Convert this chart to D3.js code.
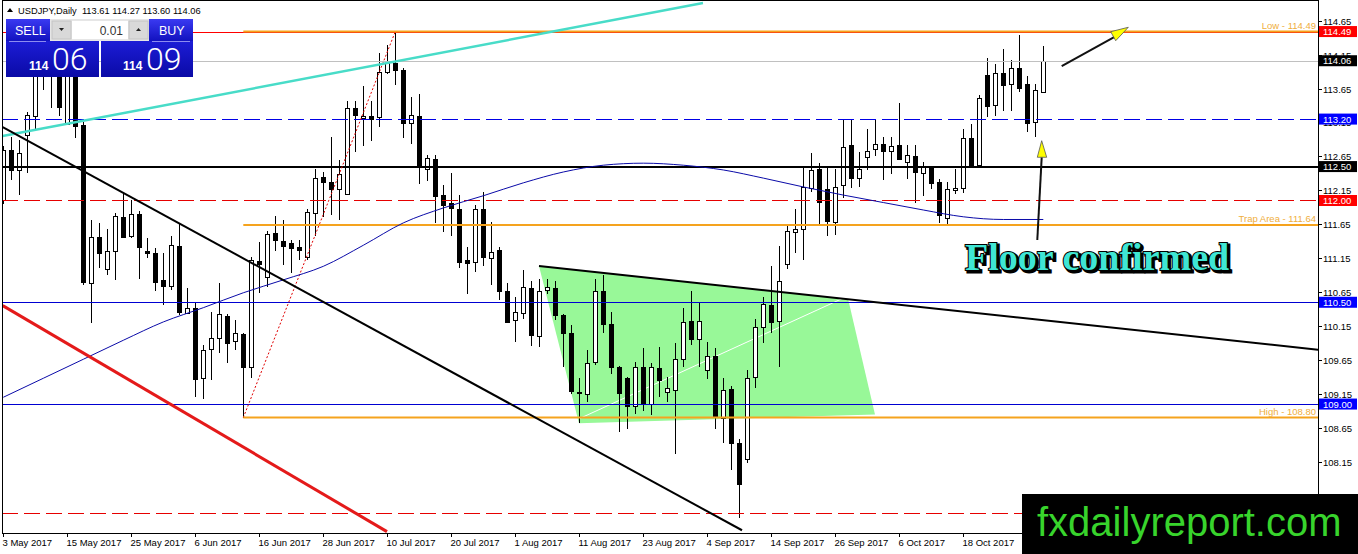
<!DOCTYPE html>
<html>
<head>
<meta charset="utf-8">
<script src="https://cdn.jsdelivr.net/npm/d3@7"></script>
<style>
  body { margin: 0; background: #fff; }
  svg { display: block; font-family: 'Liberation Sans', Arial, sans-serif; }
</style>
</head>
<body>
<svg id="chart" width="1358" height="554"></svg>
<script>
// USDJPY daily candles, index 0 = 3 May 2017
const openP = [
  112.01, 112.75, 112.45, 112.97, 113.24, 114.00, 113.88, 114.05, 113.14, 113.90,
  113.11, 110.78, 111.46, 110.99, 111.26, 111.76, 111.47, 111.80, 111.25, 111.23,
  110.83, 110.73, 111.33, 110.34, 110.42, 109.38, 109.81, 109.98, 110.30, 109.92,
  110.03, 109.54, 111.11, 110.88, 111.52, 111.41, 111.37, 111.31, 111.17, 111.82,
  112.35, 112.28, 112.17, 112.10, 113.36, 113.22, 113.25, 113.23, 113.88, 114.03,
  113.93, 113.14, 113.25, 112.46, 112.61, 112.08, 111.97, 111.88, 111.12, 111.10,
  111.87, 111.15, 111.27, 110.66, 110.24, 110.34, 110.71, 110.00, 110.68, 110.71,
  110.31, 110.04, 109.16, 109.16, 109.61, 110.66, 110.18, 109.55, 109.38, 108.97,
  109.55, 109.00, 109.53, 109.17, 109.22, 109.67, 110.23, 109.96, 109.51, 109.71,
  108.78, 109.22, 108.42, 108.19, 109.40, 110.14, 110.46, 110.23, 111.07, 111.54,
  111.58, 112.19, 112.46, 112.17, 111.69, 112.23, 112.82, 112.33, 112.64, 112.75,
  112.84, 112.72, 112.82, 112.56, 112.66, 112.41, 112.49, 112.28, 111.74, 112.15,
  112.19, 112.92, 112.52, 113.85, 113.41, 113.88, 113.73, 113.96, 113.72, 113.16,
  113.61
];
const highP = [
  112.80, 112.94, 112.89, 113.31, 114.10, 114.20, 114.30, 114.15, 114.05, 114.00,
  113.16, 111.71, 111.67, 111.58, 111.82, 112.11, 112.01, 111.85, 111.44, 111.30,
  111.22, 111.47, 111.66, 110.71, 110.51, 109.87, 110.36, 110.78, 110.33, 110.24,
  110.05, 111.17, 111.39, 111.55, 111.77, 111.71, 111.42, 111.42, 111.88, 112.46,
  112.42, 112.93, 112.60, 113.47, 113.47, 113.69, 113.47, 114.18, 114.29, 114.49,
  113.96, 113.52, 113.57, 112.67, 112.67, 112.23, 112.41, 112.08, 111.31, 111.93,
  112.12, 111.69, 111.32, 110.78, 110.58, 110.98, 110.82, 110.85, 110.85, 110.82,
  110.33, 110.16, 109.39, 109.80, 110.84, 110.90, 110.36, 109.56, 109.40, 109.62,
  109.82, 109.60, 109.84, 109.40, 109.90, 110.41, 110.66, 110.49, 109.92, 109.82,
  109.39, 109.26, 108.48, 109.50, 110.25, 110.58, 111.04, 111.33, 111.64, 111.87,
  112.50, 112.70, 112.55, 112.50, 112.47, 113.20, 113.20, 112.72, 113.05, 113.20,
  112.93, 112.93, 113.44, 112.82, 112.82, 112.57, 112.51, 112.31, 112.28, 112.46,
  113.05, 113.13, 113.56, 114.10, 114.01, 114.23, 114.07, 114.44, 113.84, 113.72,
  114.27
];
const lowP = [
  111.95, 112.30, 112.08, 112.40, 113.04, 113.63, 113.36, 113.24, 113.13, 112.92,
  110.75, 110.19, 111.00, 110.90, 110.83, 111.44, 111.45, 110.85, 111.15, 110.66,
  110.46, 110.68, 110.31, 110.32, 109.11, 109.08, 109.36, 109.75, 109.60, 109.80,
  108.80, 109.38, 110.63, 110.73, 111.26, 111.05, 110.93, 111.12, 111.12, 111.47,
  111.76, 111.79, 111.71, 112.08, 112.72, 112.80, 112.88, 113.09, 113.87, 113.70,
  112.92, 112.84, 112.25, 112.29, 111.67, 111.54, 111.47, 111.00, 110.62, 110.95,
  111.04, 110.76, 110.54, 110.19, 109.92, 110.26, 109.85, 109.84, 110.62, 110.24,
  109.55, 109.15, 108.72, 109.03, 109.58, 110.05, 109.44, 108.59, 108.63, 108.86,
  108.90, 108.84, 109.11, 109.03, 108.27, 109.54, 109.87, 109.55, 109.37, 108.63,
  108.43, 108.03, 107.32, 108.13, 109.23, 109.90, 110.05, 109.54, 110.99, 111.22,
  111.12, 112.13, 111.65, 111.47, 111.49, 112.03, 112.18, 112.20, 112.45, 112.65,
  112.30, 112.39, 112.59, 112.31, 111.97, 112.07, 112.17, 111.67, 111.64, 112.10,
  112.11, 112.50, 112.50, 113.23, 113.24, 113.32, 113.32, 113.60, 113.01, 112.94,
  113.60
];
const closeP = [
  112.75, 112.45, 112.70, 113.26, 113.95, 113.88, 114.05, 113.37, 113.90, 113.11,
  110.80, 111.46, 111.23, 111.26, 111.77, 111.46, 111.80, 111.32, 111.22, 110.80,
  110.74, 111.34, 110.36, 110.42, 109.37, 109.79, 109.97, 110.33, 109.90, 110.04,
  109.55, 111.12, 111.07, 111.51, 111.42, 111.34, 111.30, 111.26, 111.83, 112.33,
  112.28, 112.17, 112.39, 113.37, 113.26, 113.25, 113.20, 113.90, 114.02, 113.93,
  113.15, 113.26, 112.51, 112.62, 112.06, 111.93, 111.90, 111.10, 111.07, 111.88,
  111.16, 111.24, 110.67, 110.21, 110.36, 110.72, 110.02, 110.67, 110.73, 110.31,
  110.05, 109.18, 109.18, 109.61, 110.66, 110.18, 109.55, 109.17, 108.97, 109.55,
  109.01, 109.54, 109.35, 109.23, 109.67, 110.21, 109.96, 110.23, 109.71, 108.81,
  109.20, 108.43, 107.81, 109.38, 110.14, 110.48, 110.21, 110.82, 111.55, 111.58,
  112.20, 112.45, 111.97, 111.70, 112.20, 112.79, 112.34, 112.47, 112.73, 112.83,
  112.74, 112.80, 112.61, 112.67, 112.43, 112.50, 112.25, 111.80, 112.17, 112.18,
  112.92, 112.52, 113.51, 113.39, 113.88, 113.70, 113.96, 113.67, 113.15, 113.63,
  114.06
];

// moving average, read every 5 bars
const maIndex = [0, 5, 10, 15, 20, 25, 30, 35, 40, 45, 50, 55, 60, 65, 70, 75, 80, 85, 90, 95, 100, 105, 110, 115, 120, 125, 130];
const maValue = [109.10, 109.38, 109.66, 109.94, 110.21, 110.42, 110.64, 110.83, 111.03, 111.34, 111.67, 111.89, 112.07, 112.26, 112.42, 112.52, 112.55, 112.52, 112.45, 112.33, 112.20, 112.08, 111.97, 111.86, 111.76, 111.72, 111.72];

// axes
const priceTicks = [114.65, 114.15, 113.65, 113.15, 112.65, 112.15, 111.65, 111.15, 110.65, 110.15, 109.65, 109.15, 108.65, 108.15, 107.65];
const dateTickIndex = [0, 8, 16, 24, 32, 40, 48, 56, 64, 72, 80, 88, 96, 104, 112, 120];
const dateTickLabels = ['3 May 2017', '15 May 2017', '25 May 2017', '6 Jun 2017', '16 Jun 2017', '28 Jun 2017', '10 Jul 2017', '20 Jul 2017', '1 Aug 2017', '11 Aug 2017', '23 Aug 2017', '4 Sep 2017', '14 Sep 2017', '26 Sep 2017', '6 Oct 2017', '18 Oct 2017'];

// horizontal levels
const levelPrices = [114.49, 114.06, 113.20, 112.50, 112.00, 110.50, 109.00, 107.40];
const levelKinds = ['red', 'bid', 'blueDash', 'black', 'redDash', 'blue', 'blue', 'redDash'];
const boxPrices = [114.49, 114.06, 113.20, 112.50, 112.00, 110.50, 109.00];
const boxKinds = ['red', 'black', 'blue', 'black', 'red', 'blue', 'blue'];

// fibo levels (anchored on bar 30 low / bar 49 high)
const fibPrices = [114.49, 111.64, 108.80];
const fibNames = ['Low', 'Trap Area', 'High'];
const fibStart = 30;
const fibAnchors = [[30, 108.80], [49, 114.49]];

// trend lines [bar index, price]
const cyanLine = [[-0.08, 112.95], [87.46, 114.91]];
const blackDown = [[-0.07, 113.08], [92.34, 107.14]];
const redDown = [[-0.07, 110.45], [47.96, 107.12]];
const blackWedge = [[66.96, 111.035], [164.34, 109.80]];
const greenZone = [[66.96, 111.035], [105.6, 110.55], [108.96, 108.846], [71.96, 108.716]];
const whiteLine = [[72.1, 108.79], [104.97, 110.56]];

// arrows
const arrowUpRight = [[132.3, 113.98], [139.59, 114.454]];
const arrowHeadUpRight = [[140.625, 114.553], [138.425, 114.488], [139.05, 114.355]];
const arrowUp = [[129.25, 111.418], [129.8, 112.637]];
const arrowHeadUp = [[129.8, 112.881], [129.25, 112.637], [130.425, 112.637]];

const plot = { left: 2, top: 1, right: 1318, bottom: 533 };

const x = d3.scaleLinear().domain([0, 130]).range([3.3, 1043.3]);
const y = d3.scaleLinear().domain([107.0995, 114.9403]).range([plot.bottom, plot.top]);

const svg = d3.select('#chart');
const defs = svg.append('defs');

defs.append('clipPath').attr('id', 'plot-clip')
  .append('rect')
  .attr('x', plot.left).attr('y', plot.top)
  .attr('width', plot.right - plot.left).attr('height', plot.bottom - plot.top);

const btnGrad = defs.append('linearGradient').attr('id', 'btn-grad')
  .attr('x1', 0).attr('y1', 0).attr('x2', 0).attr('y2', 1);
btnGrad.append('stop').attr('offset', '0%').attr('stop-color', '#3a3af2');
btnGrad.append('stop').attr('offset', '100%').attr('stop-color', '#1010bc');

const priceGrad = defs.append('linearGradient').attr('id', 'price-grad')
  .attr('x1', 0).attr('y1', 0).attr('x2', 0).attr('y2', 1);
priceGrad.append('stop').attr('offset', '0%').attr('stop-color', '#1c1cd6');
priceGrad.append('stop').attr('offset', '100%').attr('stop-color', '#0a0aa6');

svg.append('rect').attr('width', 1358).attr('height', 554).attr('fill', '#fff');

const g = svg.append('g').attr('clip-path', 'url(#plot-clip)');
const seg = d3.line().x(d => x(d[0])).y(d => y(d[1]));

// green zone behind everything
g.append('path')
  .attr('d', seg(greenZone) + 'Z')
  .attr('fill', '#98f898');
g.append('path')
  .attr('d', seg(whiteLine))
  .attr('stroke', '#ffffff').attr('stroke-width', 1).attr('fill', 'none');

// candles
const bars = d3.range(openP.length);
const candles = g.append('g').attr('class', 'candles').attr('shape-rendering', 'crispEdges');
bars.forEach(i => {
  const cx = Math.round(x(i)) + 0.5;
  const up = closeP[i] >= openP[i];
  const top = y(Math.max(openP[i], closeP[i]));
  const bot = y(Math.min(openP[i], closeP[i]));
  candles.append('line')
    .attr('x1', cx).attr('x2', cx)
    .attr('y1', y(highP[i])).attr('y2', y(lowP[i]))
    .attr('stroke', '#000').attr('stroke-width', 1);
  candles.append('rect')
    .attr('x', cx - 2).attr('width', 4)
    .attr('y', Math.round(top) + 0.5)
    .attr('height', Math.max(1, Math.round(bot - top)))
    .attr('fill', up ? '#fff' : '#000')
    .attr('stroke', '#000').attr('stroke-width', 1);
});

// horizontal levels
const levelStyle = {
  red: { stroke: '#ff0000', width: 1, dash: null },
  bid: { stroke: '#c0c0c0', width: 1, dash: null },
  blueDash: { stroke: '#0000e6', width: 1, dash: '16,6' },
  black: { stroke: '#000000', width: 2, dash: null },
  redDash: { stroke: '#e60000', width: 1, dash: '16,6' },
  blue: { stroke: '#0000d2', width: 1, dash: null }
};
levelPrices.forEach((p, k) => {
  const s = levelStyle[levelKinds[k]];
  const yy = Math.round(y(p)) + (s.width === 1 ? 0.5 : 0);
  g.append('line')
    .attr('x1', plot.left).attr('x2', plot.right)
    .attr('y1', yy).attr('y2', yy)
    .attr('stroke', s.stroke).attr('stroke-width', s.width)
    .attr('stroke-dasharray', s.dash)
    .attr('shape-rendering', 'crispEdges');
});

// fibo
g.append('path')
  .attr('d', seg(fibAnchors))
  .attr('stroke', '#e00000').attr('stroke-width', 1)
  .attr('stroke-dasharray', '2,2').attr('fill', 'none');
fibPrices.forEach((p, k) => {
  g.append('line')
    .attr('x1', x(fibStart)).attr('x2', plot.right)
    .attr('y1', y(p)).attr('y2', y(p))
    .attr('stroke', '#f5a31e').attr('stroke-width', 2);
  g.append('text')
    .attr('x', plot.right - 2).attr('y', y(p) - 2.5)
    .attr('text-anchor', 'end')
    .attr('font-size', '9.5px')
    .attr('fill', '#efae3c')
    .text(fibNames[k] + ' - ' + p.toFixed(2));
});

// moving average
g.append('path')
  .datum(maIndex.map((d, k) => [d, maValue[k]]))
  .attr('d', d3.line().x(d => x(d[0])).y(d => y(d[1])).curve(d3.curveMonotoneX))
  .attr('stroke', '#0a0aa8').attr('stroke-width', 1).attr('fill', 'none');

// trend lines
g.append('path').attr('d', seg(cyanLine))
  .attr('stroke', '#48dcc8').attr('stroke-width', 2.5).attr('fill', 'none');
g.append('path').attr('d', seg(blackDown))
  .attr('stroke', '#000').attr('stroke-width', 2).attr('fill', 'none');
g.append('path').attr('d', seg(redDown))
  .attr('stroke', '#e41a1a').attr('stroke-width', 3).attr('fill', 'none');
g.append('path').attr('d', seg(blackWedge))
  .attr('stroke', '#000').attr('stroke-width', 2).attr('fill', 'none');

// arrows
[[arrowUpRight, arrowHeadUpRight], [arrowUp, arrowHeadUp]].forEach(([shaft, head]) => {
  g.append('path').attr('d', seg(shaft))
    .attr('stroke', '#111').attr('stroke-width', 2).attr('fill', 'none');
  g.append('path').attr('d', seg(head) + 'Z')
    .attr('fill', '#ffff00').attr('stroke', '#555').attr('stroke-width', 0.8);
});

// caption
const caption = svg.append('g').attr('font-family', "'Liberation Serif', 'Times New Roman', serif")
  .attr('font-weight', 'bold').attr('font-size', '38px');
caption.append('text')
  .attr('x', 967).attr('y', 272)
  .attr('fill', '#000').attr('stroke', '#000').attr('stroke-width', 3)
  .text('Floor confirmed');
caption.append('text')
  .attr('x', 965).attr('y', 270)
  .attr('fill', '#3fe6d4').attr('stroke', '#000').attr('stroke-width', 2.2)
  .attr('paint-order', 'stroke')
  .text('Floor confirmed');

// frame and axes
svg.append('rect')
  .attr('x', plot.left + 0.5).attr('y', plot.top - 0.5)
  .attr('width', plot.right - plot.left).attr('height', plot.bottom - plot.top + 0.5)
  .attr('fill', 'none').attr('stroke', '#000').attr('stroke-width', 1)
  .attr('shape-rendering', 'crispEdges');

const yAxis = svg.append('g').attr('font-size', '9.5px').attr('fill', '#000');
priceTicks.forEach(p => {
  const yy = Math.round(y(p)) + 0.5;
  yAxis.append('line')
    .attr('x1', plot.right).attr('x2', plot.right + 4)
    .attr('y1', yy).attr('y2', yy)
    .attr('stroke', '#000').attr('shape-rendering', 'crispEdges');
  yAxis.append('text')
    .attr('x', plot.right + 5).attr('y', yy + 3.5)
    .text(p.toFixed(2));
});

const boxColor = { red: '#ff0000', blue: '#0000ff', black: '#000000' };
boxPrices.forEach((p, k) => {
  const yy = y(p);
  yAxis.append('rect')
    .attr('x', plot.right + 1).attr('y', yy - 5.5)
    .attr('width', 38).attr('height', 11)
    .attr('fill', boxColor[boxKinds[k]]);
  yAxis.append('text')
    .attr('x', plot.right + 5).attr('y', yy + 3.5)
    .attr('fill', '#fff')
    .text(p.toFixed(2));
});

const xAxis = svg.append('g').attr('font-size', '9.5px').attr('fill', '#000');
dateTickIndex.forEach((idx, k) => {
  const xx = Math.round(x(idx)) + 0.5;
  xAxis.append('line')
    .attr('x1', xx).attr('x2', xx)
    .attr('y1', plot.bottom).attr('y2', plot.bottom + 4)
    .attr('stroke', '#000').attr('shape-rendering', 'crispEdges');
  xAxis.append('text')
    .attr('x', Math.max(1, xx - 1)).attr('y', plot.bottom + 13)
    .text(dateTickLabels[k]);
});

// header line
svg.append('path').attr('d', 'M7,12 L10,8 L13,12 Z').attr('fill', '#000');
svg.append('text')
  .attr('x', 18).attr('y', 13.5)
  .attr('font-size', '9.3px').attr('fill', '#000')
  .attr('xml:space', 'preserve')
  .text('USDJPY,Daily  113.61 114.27 113.60 114.06');

// one-click trading panel
const panel = svg.append('g');
panel.append('rect').attr('x', 6).attr('y', 19).attr('width', 44).attr('height', 23).attr('fill', 'url(#btn-grad)');
panel.append('rect').attr('x', 149).attr('y', 19).attr('width', 44).attr('height', 23).attr('fill', 'url(#btn-grad)');
panel.append('rect').attr('x', 6).attr('y', 41).attr('width', 93).attr('height', 36).attr('fill', 'url(#price-grad)');
panel.append('rect').attr('x', 101).attr('y', 41).attr('width', 92).attr('height', 36).attr('fill', 'url(#price-grad)');
panel.append('line').attr('x1', 9).attr('x2', 46).attr('y1', 41.5).attr('y2', 41.5).attr('stroke', '#8c8cf0');
panel.append('line').attr('x1', 152).attr('x2', 190).attr('y1', 41.5).attr('y2', 41.5).attr('stroke', '#8c8cf0');

panel.append('rect').attr('x', 50).attr('y', 19).attr('width', 99).attr('height', 22).attr('fill', '#e6e6e6');
panel.append('rect').attr('x', 52).attr('y', 21).attr('width', 19).attr('height', 18).attr('fill', '#d9d9d9').attr('stroke', '#c4c4c4');
panel.append('rect').attr('x', 72).attr('y', 21).attr('width', 56).attr('height', 18).attr('fill', '#fff');
panel.append('rect').attr('x', 129).attr('y', 21).attr('width', 19).attr('height', 18).attr('fill', '#d9d9d9').attr('stroke', '#c4c4c4');
panel.append('path').attr('d', 'M59,28 L64,28 L61.5,31 Z').attr('fill', '#222');
panel.append('path').attr('d', 'M136,31 L141,31 L138.5,28 Z').attr('fill', '#222');
panel.append('text').attr('x', 123).attr('y', 34.5).attr('text-anchor', 'end')
  .attr('font-size', '12px').attr('fill', '#333').text('0.01');

panel.append('text').attr('x', 15).attr('y', 35).attr('font-size', '12.5px').attr('fill', '#fff').text('SELL');
panel.append('text').attr('x', 159).attr('y', 35).attr('font-size', '12.5px').attr('fill', '#fff').text('BUY');

[[29, 52, '06'], [123, 146, '09']].forEach(([bx, dx, digits]) => {
  panel.append('text').attr('x', bx).attr('y', 70).attr('font-size', '12px')
    .attr('font-weight', 'bold').attr('fill', '#fff').text('114');
  panel.append('text').attr('x', dx).attr('y', 70).attr('font-size', '32px')
    .attr('font-family', 'Roboto, sans-serif').attr('font-weight', 300)
    .attr('fill', '#fff').text(digits);
});

// watermark
svg.append('rect').attr('x', 1022).attr('y', 494).attr('width', 336).attr('height', 60).attr('fill', '#000');
svg.append('text')
  .attr('x', 1037).attr('y', 536)
  .attr('font-size', '40px').attr('fill', '#38d42c')
  .text('fxdailyreport.com');
</script>
</body>
</html>
